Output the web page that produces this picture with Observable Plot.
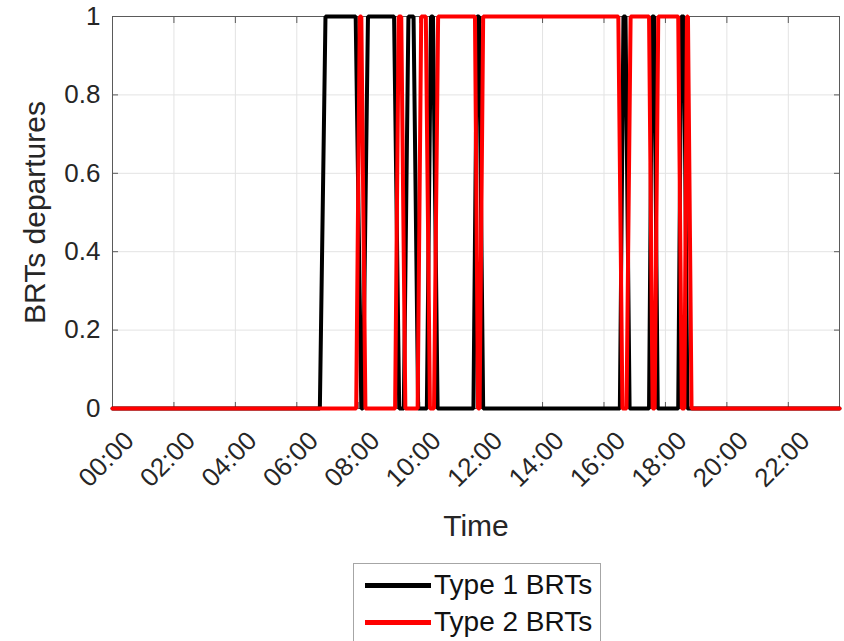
<!DOCTYPE html>
<html><head><meta charset="utf-8">
<script src="https://cdn.jsdelivr.net/npm/d3@7"></script>
<script src="https://cdn.jsdelivr.net/npm/@observablehq/plot@0.6"></script>
<style>
body{margin:0;background:#fff;font-family:"Liberation Sans",Arial,sans-serif;}
#wrap{position:relative;width:844px;height:641px;overflow:hidden;background:#fff;}
#legend{position:absolute;left:353px;top:563px;width:248px;height:90px;border:1.5px solid #a6a6a6;box-sizing:border-box;background:#fff;}
.item{position:absolute;left:11px;display:flex;align-items:center;font-size:28px;line-height:32px;color:#111;white-space:nowrap;}
.swatch{width:66px;height:5px;margin-right:3px;}
</style></head><body>
<div id="wrap"><div id="chart"></div><div id="legend"></div></div>
<script>
// ---- data ----
const seriesNames = ["Type 1 BRTs", "Type 2 BRTs"];
const seriesColors = ["#000000", "#ff0000"];

const type1Times  = ["00:00","06:45","06:56","07:55","08:06","08:09","08:19","09:10","09:20","09:29","09:38","09:48","09:57","10:14","10:22","10:26","10:35","11:45","11:52","11:56","12:04","16:31","16:38","16:42","16:50","17:28","17:34","17:38","17:45","18:25","18:31","18:36","18:43","23:40"];
const type1Values = [0,0,1,1,0,0,1,1,0,0,1,1,0,0,1,1,0,0,1,1,0,0,1,1,0,0,1,1,0,0,1,1,0,0];

const type2Times  = ["00:00","07:56","08:03","08:06","08:14","09:12","09:19","09:24","09:32","09:56","10:03","10:12","10:20","10:28","10:36","11:48","11:54","11:57","12:04","16:28","16:36","16:44","16:52","17:28","17:35","17:39","17:46","18:25","18:32","18:37","18:42","18:44","18:51","23:40"];
const type2Values = [0,0,1,1,0,0,1,1,0,0,1,1,0,0,1,1,0,0,1,1,0,0,1,1,0,0,1,1,0,0,1,1,0,0];

const xTickLabels = ["00:00","02:00","04:00","06:00","08:00","10:00","12:00","14:00","16:00","18:00","20:00","22:00"];
const xDomainLabels = ["00:00","23:40"];
const yTicks = [0, 0.2, 0.4, 0.6, 0.8, 1];
const xLabel = "Time";
const yLabel = "BRTs departures";

// ---- build ----
const toMin = s => { const [h, m] = s.split(":").map(Number); return h * 60 + m; };
const rows = [];
type1Times.forEach((t, i) => rows.push({series: seriesNames[0], t: toMin(t), v: type1Values[i]}));
type2Times.forEach((t, i) => rows.push({series: seriesNames[1], t: toMin(t), v: type2Values[i]}));
const xTicks = xTickLabels.map(toMin);
const fmtX = m => xTickLabels[xTicks.indexOf(m)] ?? "";

const font = "'Liberation Sans', Arial, sans-serif";
const chart = Plot.plot({
  width: 844, height: 560,
  marginLeft: 112, marginRight: 5, marginTop: 16, marginBottom: 152,
  style: {fontFamily: font, fontSize: "26px", color: "#262626", background: "white", overflow: "visible"},
  x: {domain: xDomainLabels.map(toMin)},
  y: {domain: [0, 1]},
  color: {domain: seriesNames, range: seriesColors},
  marks: [
    Plot.gridX(xTicks, {stroke: "#e3e3e3", strokeOpacity: 1, strokeWidth: 1}),
    Plot.gridY(yTicks, {stroke: "#e3e3e3", strokeOpacity: 1, strokeWidth: 1}),
    Plot.frame({stroke: "#5a5a5a", strokeWidth: 1}),
    Plot.axisX({anchor: "bottom", ticks: xTicks, tickSize: -6, tickFormat: () => "", label: null, stroke: "#5a5a5a"}),
    Plot.axisX({anchor: "top", ticks: xTicks, tickSize: -6, tickFormat: () => "", label: null, stroke: "#5a5a5a"}),
    Plot.axisY({anchor: "left", ticks: yTicks, tickSize: -6, tickFormat: () => "", label: null, stroke: "#5a5a5a"}),
    Plot.axisY({anchor: "right", ticks: yTicks, tickSize: -6, tickFormat: () => "", label: null, stroke: "#5a5a5a"}),
    Plot.axisX({anchor: "bottom", ticks: xTicks, tickSize: 0, tickPadding: 28, dx: 17, tickRotate: -45, tickFormat: fmtX, label: null, fill: "#262626", fontSize: 26}),
    Plot.axisY({anchor: "left", ticks: yTicks, tickSize: 0, tickPadding: 12, tickFormat: d => String(d), label: null, fill: "#262626", fontSize: 26}),
    Plot.text([xLabel], {frameAnchor: "bottom", dy: 127, text: d => d, fill: "#262626", fontSize: 30}),
    Plot.text([yLabel], {frameAnchor: "left", textAnchor: "middle", dx: -77, rotate: -90, text: d => d, fill: "#262626", fontSize: 30}),
    Plot.line(rows, {x: "t", y: "v", z: "series", stroke: "series", strokeWidth: 4, strokeLinejoin: "miter", curve: "linear"})
  ]
});
document.getElementById("chart").appendChild(chart);

const legend = document.getElementById("legend");
seriesNames.forEach((name, i) => {
  const item = document.createElement("div");
  item.className = "item";
  item.style.top = (i === 0 ? 5 : 42) + "px";
  const sw = document.createElement("div");
  sw.className = "swatch";
  sw.style.background = seriesColors[i];
  const label = document.createElement("span");
  label.textContent = name;
  item.appendChild(sw); item.appendChild(label);
  legend.appendChild(item);
});
</script>
</body></html>
